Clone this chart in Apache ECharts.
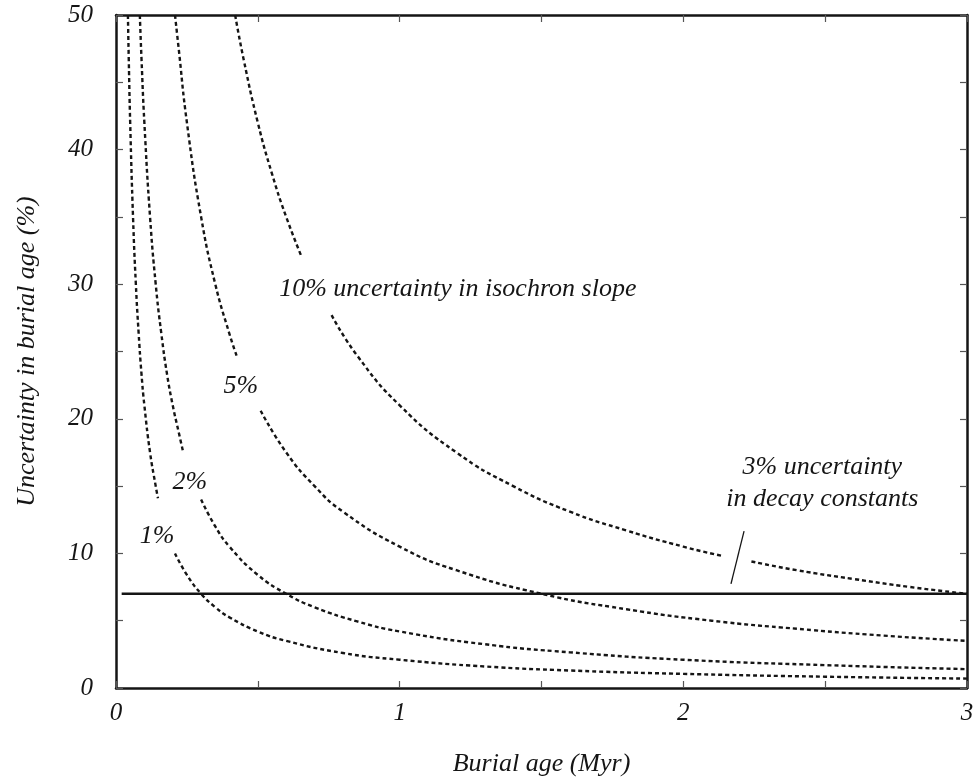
<!DOCTYPE html>
<html>
<head>
<meta charset="utf-8">
<script src="https://cdn.jsdelivr.net/npm/echarts@6/dist/echarts.min.js"></script>
<style>
  body { margin: 0; background: #fff; }
  #chart { width: 973px; height: 777px; }
</style>
</head>
<body>
<div id="chart"></div>
<script>
  // 曲线数据，每条曲线因标注而断开
  var curve1a = [[0.042, 50], [0.045, 46.7], [0.05, 42], [0.06, 35], [0.07, 30], [0.08, 26.3], [0.09, 23.3], [0.1, 21], [0.12, 17.5], [0.14, 15], [0.148, 14.1]];
  var curve1b = [[0.208, 10.0], [0.25, 8.4], [0.3, 7.0], [0.35, 6.0], [0.4, 5.25], [0.5, 4.2], [0.6, 3.5], [0.8, 2.6], [1.0, 2.1], [1.3, 1.6], [1.6, 1.3], [2.0, 1.05], [2.5, 0.84], [3.0, 0.7]];
  var curve2a = [[0.084, 50], [0.09, 46.7], [0.1, 42], [0.12, 35], [0.14, 30], [0.16, 26.3], [0.18, 23.3], [0.2, 21], [0.22, 19.1], [0.236, 17.6]];
  var curve2b = [[0.3, 14.0], [0.35, 12], [0.4, 10.5], [0.5, 8.4], [0.6, 7.0], [0.7, 6.0], [0.85, 4.95], [1.0, 4.2], [1.3, 3.25], [1.6, 2.65], [2.0, 2.1], [2.5, 1.7], [3.0, 1.4]];
  var curve5a = [[0.208, 50], [0.22, 47.7], [0.25, 42], [0.3, 35], [0.35, 30], [0.4, 26.3], [0.425, 24.7]];
  var curve5b = [[0.51, 20.6], [0.6, 17.5], [0.7, 15], [0.8, 13.1], [1.0, 10.5], [1.2, 8.75], [1.5, 7.0], [1.8, 5.85], [2.1, 5.0], [2.4, 4.4], [2.7, 3.9], [3.0, 3.5]];
  var curve10a = [[0.42, 50], [0.45, 46.7], [0.5, 42], [0.55, 38.2], [0.6, 35], [0.655, 32]];
  var curve10b = [[0.76, 27.7], [0.85, 24.7], [1.0, 21], [1.2, 17.5], [1.4, 15], [1.6, 13.1], [1.8, 11.7], [2.0, 10.5], [2.14, 9.8]];
  var curve10c = [[2.24, 9.4], [2.4, 8.75], [2.6, 8.1], [2.8, 7.5], [3.0, 7.0]];
  var decayLine = [[0.02, 7], [3.0, 7]];
  var pointerLine = [[2.214, 11.66], [2.168, 7.73]];

  // 标注文字及其数据坐标
  var labels = [
    {text: '1%', pos: [0.145, 11.3]},
    {text: '2%', pos: [0.26, 15.3]},
    {text: '5%', pos: [0.44, 22.4]},
    {text: '10% uncertainty in isochron slope', pos: [1.205, 29.6]},
    {text: '3% uncertainty', pos: [2.49, 16.4]},
    {text: 'in decay constants', pos: [2.49, 14.0]}
  ];

  var fontName = 'Liberation Serif';
  var ink = '#151515';

  var chart = echarts.init(document.getElementById('chart'));

  function dashed(data) {
    return {
      type: 'line', data: data, showSymbol: false, symbol: 'none', smooth: true,
      lineStyle: {color: ink, width: 2.4, type: [4, 3]},
      silent: true
    };
  }

  var axisBase = {
    type: 'value',
    axisLine: {show: true, onZero: false, lineStyle: {color: ink, width: 2.5}},
    axisTick: {show: true, inside: true, length: 7, lineStyle: {color: '#555', width: 1.2}},
    minorTick: {show: true, splitNumber: 2, length: 7, lineStyle: {color: '#555', width: 1.2}},
    splitLine: {show: false}
  };

  chart.setOption({
    backgroundColor: '#fff',
    animation: false,
    grid: {left: 116, top: 15, right: 6, bottom: 89, outerBoundsMode: 'none', containLabel: false},
    xAxis: [
      Object.assign({}, axisBase, {
        min: 0, max: 3, interval: 1, position: 'bottom',
        name: 'Burial age (Myr)', nameLocation: 'middle', nameGap: 63,
        nameTextStyle: {fontFamily: fontName, fontStyle: 'italic', fontSize: 26, color: ink},
        axisLabel: {margin: 13, fontFamily: fontName, fontStyle: 'italic', fontSize: 25, color: ink}
      }),
      Object.assign({}, axisBase, {
        min: 0, max: 3, interval: 1, position: 'top', axisLabel: {show: false}
      })
    ],
    yAxis: [
      Object.assign({}, axisBase, {
        min: 0, max: 50, interval: 10, position: 'left',
        name: 'Uncertainty in burial age (%)', nameLocation: 'middle', nameGap: 76,
        nameTextStyle: {fontFamily: fontName, fontStyle: 'italic', fontSize: 26, color: ink},
        axisLabel: {margin: 23, fontFamily: fontName, fontStyle: 'italic', fontSize: 25, color: ink}
      }),
      Object.assign({}, axisBase, {
        min: 0, max: 50, interval: 10, position: 'right', axisLabel: {show: false}
      })
    ],
    series: [
      dashed(curve1a), dashed(curve1b),
      dashed(curve2a), dashed(curve2b),
      dashed(curve5a), dashed(curve5b),
      dashed(curve10a), dashed(curve10b), dashed(curve10c),
      {
        type: 'line', data: decayLine, symbol: 'none', silent: true,
        lineStyle: {color: ink, width: 2.6}
      },
      {
        type: 'line', data: pointerLine, symbol: 'none', silent: true,
        lineStyle: {color: ink, width: 1.3}
      }
    ]
  });

  // 标注放到数据坐标位置
  chart.setOption({
    graphic: labels.map(function (l) {
      var p = chart.convertToPixel({gridIndex: 0}, l.pos);
      return {
        type: 'text', x: p[0], y: p[1], silent: true,
        style: {
          text: l.text, fill: ink, align: 'center', verticalAlign: 'middle',
          font: 'italic 26px "' + fontName + '"'
        }
      };
    })
  });
</script>
</body>
</html>
